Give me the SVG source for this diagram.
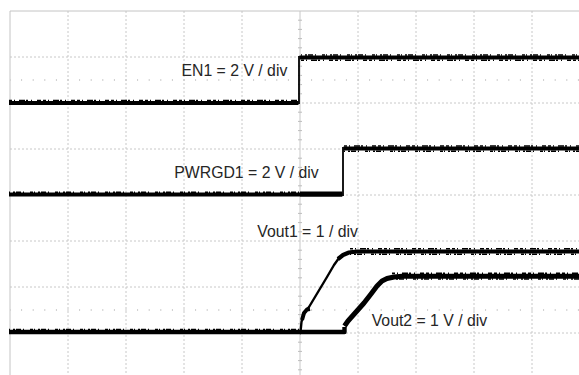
<svg xmlns="http://www.w3.org/2000/svg" width="579" height="375" viewBox="0 0 579 375">
<style>
.bg{fill:#ffffff}
.border{stroke:#c4c4c4;stroke-width:1;fill:none}
.grid{stroke:#c8c8c8;stroke-width:1;stroke-dasharray:2 2;fill:none}
.axis{stroke:#c8c8c8;stroke-width:1;fill:none}
.tick{stroke:#bdbdbd;stroke-width:1}
.dots{stroke:#bdbdbd;stroke-width:1.5;fill:none}
.trace{stroke:#000;stroke-width:4.2;fill:none;stroke-linejoin:round}
.edge{stroke:#000;stroke-width:1.8;fill:none}
.thin{stroke:#000;stroke-width:2.4;fill:none;stroke-linejoin:round;stroke-linecap:round}
.noise{stroke:#000;stroke-width:1.6;fill:none;stroke-dasharray:3 2 1 4 6 1 2 3 1 5 4 2}
.noise2{stroke:#000;stroke-width:1.4;fill:none;stroke-dasharray:1 3 2 1 5 2 1 6 3 1}
.label{font-family:"Liberation Sans",Arial,sans-serif;font-size:15.8px;fill:#262626}
</style>
<rect class="bg" x="0" y="0" width="579" height="375"/>
<g id="graticule">
  <path class="grid" d="M68 11V375M126 11V375M184 11V375M242 11V375M358 11V375M416 11V375M474 11V375M532 11V375"/>
  <path class="grid" d="M10 57H579M10 103H579M10 149H579M10 195H579M10 241H579M10 287H579M10 333H579"/>
  <path class="border" d="M10 375V11H579"/>
  <path class="axis" d="M300 11V375"/>
  <path class="tick" d="M298 20.2h4M298 29.4h4M298 38.6h4M298 47.8h4M298 66.2h4M298 75.4h4M298 84.6h4M298 93.8h4M298 112.2h4M298 121.4h4M298 130.6h4M298 139.8h4M298 158.2h4M298 167.4h4M298 176.6h4M298 185.8h4M298 204.2h4M298 213.4h4M298 222.6h4M298 231.8h4M298 250.2h4M298 259.4h4M298 268.6h4M298 277.8h4M298 296.2h4M298 305.4h4M298 314.6h4M298 323.8h4M298 342.2h4M298 351.4h4M298 360.6h4M298 369.8h4"/>
  <path class="dots" d="M10 80H579M10 310H579" style="stroke-dasharray:1 10.6;stroke-dashoffset:-11.1"/>
</g>
<g id="en1">
  <path class="trace" d="M9 103H298.5"/>
  <path class="edge" d="M299 104V56"/>
  <path class="trace" d="M299.5 57.5H579"/>
  <path class="noise" d="M9 100.6H298"/>
  <path class="noise2" d="M301 55H579"/>
  <path class="noise" d="M301 60.2H579"/>
  <text class="label" x="181.5" y="75.5">EN1 = 2 V / div</text>
</g>
<g id="pwrgd1">
  <path class="trace" d="M9 194.5H342.5"/>
  <path class="edge" d="M343 196V147"/>
  <path class="trace" d="M343.5 148.5H579"/>
  <path class="noise2" d="M9 192.2H300"/>
  <path class="trace" d="M300 194H342" style="stroke-width:5"/>
  <path class="noise" d="M344 146H579"/>
  <path class="noise2" d="M344 151.2H579"/>
  <text class="label" x="174.3" y="178.3">PWRGD1 = 2 V / div</text>
</g>
<g id="vout1">
  <path class="trace" d="M9 332H301" style="stroke-width:4.6"/>
  <path class="noise2" d="M9 329.4H300"/>
  <path class="thin" d="M300.5 332L301.5 322L303 316L305.5 311L309 307L318 292L327 277L334 265L339 258L344 254.5L350 252L357 251.2"/>
  <path class="trace" d="M302 320L304 313L307 309.5L310 309" style="stroke-width:4"/>
  <path class="trace" d="M338 259L343 255L349 252.5L357 251.5H579"/>
  <path class="noise" d="M350 248.8H579"/>
  <path class="noise2" d="M350 254.2H579"/>
  <text class="label" x="257.3" y="237">Vout1 = 1 / div</text>
</g>
<g id="vout2">
  <path class="trace" d="M300 332H344.5V327" style="stroke-width:4.4"/>
  <path class="trace" d="M344.5 326L348 321L356 312L364 303L371 294L377 286L382 281L387 278.5L394 277L402 276.3H579" style="stroke-width:5"/>
  <path class="noise" d="M392 273.4H579"/>
  <path class="noise2" d="M392 279H579"/>
  <text class="label" x="371.7" y="326">Vout2 = 1 V / div</text>
</g>
</svg>
